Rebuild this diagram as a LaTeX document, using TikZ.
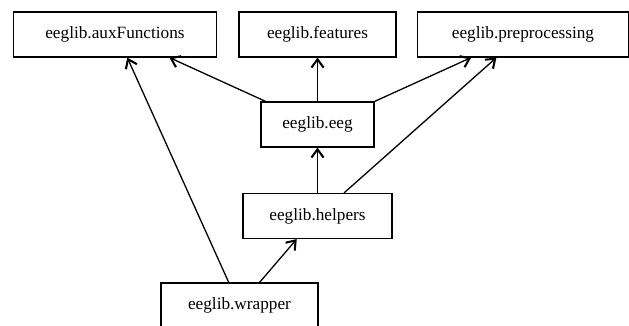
\documentclass[tikz,border=0pt]{standalone}
\usepackage{fontspec}
\setmainfont{Liberation Serif}
\usetikzlibrary{arrows.meta}
\begin{document}
\begin{tikzpicture}[x=0.58pt,y=-0.58pt,
  mod/.style={draw, line width=0.75pt, minimum height=26pt, inner sep=0pt, font=\fontsize{10}{12}\selectfont},
  dep/.style={line width=0.75pt, -{Straight Barb[length=4.8pt,width=7pt,line width=1.2pt]}}]
\useasboundingbox (0,0) rectangle (629,326);
% modules, one row per level
\path
(115,34.5) node [mod, minimum width=118pt] (aux) {eeglib.auxFunctions}
(317.5,34.5) node [mod, minimum width=91pt] (feat) {eeglib.features}
(523,34.5) node [mod, minimum width=122pt] (prep) {eeglib.preprocessing}
(317.5,124.5) node [mod, minimum width=65.5pt] (eeg) {eeglib.eeg}
(317.5,216) node [mod, minimum width=86.4pt] (help) {eeglib.helpers}
(239.5,305.5) node [mod, minimum width=91pt] (wrap) {eeglib.wrapper};

% imports
\draw[dep] (eeg.156) -- (aux.-23);
\draw[dep] (eeg) -- (feat);
\draw[dep] (eeg.22) -- (prep.204);
\draw[dep] (help) -- (eeg);
\draw[dep] (help.41) -- (prep.221);
\draw[dep] (wrap.115) -- (aux.298);
\draw[dep] (wrap.49) -- (help.228);

\end{tikzpicture}
\end{document}
